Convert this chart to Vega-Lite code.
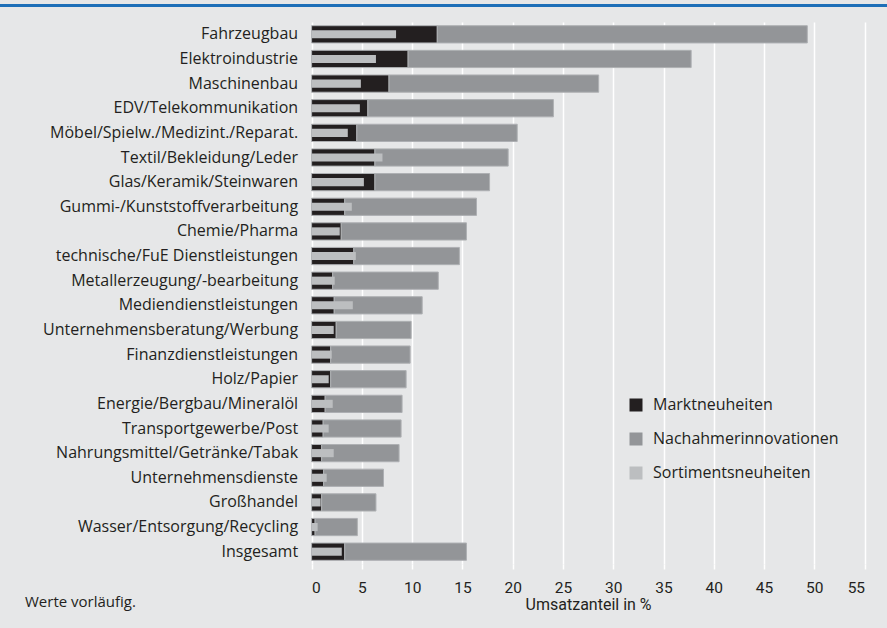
{
  "$schema": "https://vega.github.io/schema/vega-lite/v6.json",
  "background": "#e6e7e8",
  "padding": {"top": 4, "left": 0, "right": 0, "bottom": 0},
  "spacing": 15,
  "config": {"view": {"stroke": null}, "font": "Open Sans"},
  "datasets": {
    "d": [
      {"Branche": "Fahrzeugbau", "Art": "Marktneuheiten", "Wert": 12.5},
      {"Branche": "Fahrzeugbau", "Art": "Nachahmerinnovationen", "Wert": 36.8},
      {"Branche": "Fahrzeugbau", "Art": "Sortimentsneuheiten", "Wert": 8.4},
      {"Branche": "Elektroindustrie", "Art": "Marktneuheiten", "Wert": 9.6},
      {"Branche": "Elektroindustrie", "Art": "Nachahmerinnovationen", "Wert": 28.15},
      {"Branche": "Elektroindustrie", "Art": "Sortimentsneuheiten", "Wert": 6.4},
      {"Branche": "Maschinenbau", "Art": "Marktneuheiten", "Wert": 7.7},
      {"Branche": "Maschinenbau", "Art": "Nachahmerinnovationen", "Wert": 20.85},
      {"Branche": "Maschinenbau", "Art": "Sortimentsneuheiten", "Wert": 4.9},
      {"Branche": "EDV/Telekommunikation", "Art": "Marktneuheiten", "Wert": 5.6},
      {"Branche": "EDV/Telekommunikation", "Art": "Nachahmerinnovationen", "Wert": 18.45},
      {"Branche": "EDV/Telekommunikation", "Art": "Sortimentsneuheiten", "Wert": 4.8},
      {"Branche": "Möbel/Spielw./Medizint./Reparat.", "Art": "Marktneuheiten", "Wert": 4.5},
      {"Branche": "Möbel/Spielw./Medizint./Reparat.", "Art": "Nachahmerinnovationen", "Wert": 15.95},
      {"Branche": "Möbel/Spielw./Medizint./Reparat.", "Art": "Sortimentsneuheiten", "Wert": 3.6},
      {"Branche": "Textil/Bekleidung/Leder", "Art": "Marktneuheiten", "Wert": 6.3},
      {"Branche": "Textil/Bekleidung/Leder", "Art": "Nachahmerinnovationen", "Wert": 13.25},
      {"Branche": "Textil/Bekleidung/Leder", "Art": "Sortimentsneuheiten", "Wert": 7.05},
      {"Branche": "Glas/Keramik/Steinwaren", "Art": "Marktneuheiten", "Wert": 6.3},
      {"Branche": "Glas/Keramik/Steinwaren", "Art": "Nachahmerinnovationen", "Wert": 11.4},
      {"Branche": "Glas/Keramik/Steinwaren", "Art": "Sortimentsneuheiten", "Wert": 5.2},
      {"Branche": "Gummi-/Kunststoffverarbeitung", "Art": "Marktneuheiten", "Wert": 3.3},
      {"Branche": "Gummi-/Kunststoffverarbeitung", "Art": "Nachahmerinnovationen", "Wert": 13.1},
      {"Branche": "Gummi-/Kunststoffverarbeitung", "Art": "Sortimentsneuheiten", "Wert": 4.0},
      {"Branche": "Chemie/Pharma", "Art": "Marktneuheiten", "Wert": 2.95},
      {"Branche": "Chemie/Pharma", "Art": "Nachahmerinnovationen", "Wert": 12.45},
      {"Branche": "Chemie/Pharma", "Art": "Sortimentsneuheiten", "Wert": 2.8},
      {"Branche": "technische/FuE Dienstleistungen", "Art": "Marktneuheiten", "Wert": 4.2},
      {"Branche": "technische/FuE Dienstleistungen", "Art": "Nachahmerinnovationen", "Wert": 10.5},
      {"Branche": "technische/FuE Dienstleistungen", "Art": "Sortimentsneuheiten", "Wert": 4.4},
      {"Branche": "Metallerzeugung/-bearbeitung", "Art": "Marktneuheiten", "Wert": 2.1},
      {"Branche": "Metallerzeugung/-bearbeitung", "Art": "Nachahmerinnovationen", "Wert": 10.5},
      {"Branche": "Metallerzeugung/-bearbeitung", "Art": "Sortimentsneuheiten", "Wert": 2.3},
      {"Branche": "Mediendienstleistungen", "Art": "Marktneuheiten", "Wert": 2.25},
      {"Branche": "Mediendienstleistungen", "Art": "Nachahmerinnovationen", "Wert": 8.75},
      {"Branche": "Mediendienstleistungen", "Art": "Sortimentsneuheiten", "Wert": 4.1},
      {"Branche": "Unternehmensberatung/Werbung", "Art": "Marktneuheiten", "Wert": 2.45},
      {"Branche": "Unternehmensberatung/Werbung", "Art": "Nachahmerinnovationen", "Wert": 7.45},
      {"Branche": "Unternehmensberatung/Werbung", "Art": "Sortimentsneuheiten", "Wert": 2.2},
      {"Branche": "Finanzdienstleistungen", "Art": "Marktneuheiten", "Wert": 1.9},
      {"Branche": "Finanzdienstleistungen", "Art": "Nachahmerinnovationen", "Wert": 7.9},
      {"Branche": "Finanzdienstleistungen", "Art": "Sortimentsneuheiten", "Wert": 2.0},
      {"Branche": "Holz/Papier", "Art": "Marktneuheiten", "Wert": 1.9},
      {"Branche": "Holz/Papier", "Art": "Nachahmerinnovationen", "Wert": 7.5},
      {"Branche": "Holz/Papier", "Art": "Sortimentsneuheiten", "Wert": 1.7},
      {"Branche": "Energie/Bergbau/Mineralöl", "Art": "Marktneuheiten", "Wert": 1.35},
      {"Branche": "Energie/Bergbau/Mineralöl", "Art": "Nachahmerinnovationen", "Wert": 7.65},
      {"Branche": "Energie/Bergbau/Mineralöl", "Art": "Sortimentsneuheiten", "Wert": 2.1},
      {"Branche": "Transportgewerbe/Post", "Art": "Marktneuheiten", "Wert": 1.15},
      {"Branche": "Transportgewerbe/Post", "Art": "Nachahmerinnovationen", "Wert": 7.75},
      {"Branche": "Transportgewerbe/Post", "Art": "Sortimentsneuheiten", "Wert": 1.7},
      {"Branche": "Nahrungsmittel/Getränke/Tabak", "Art": "Marktneuheiten", "Wert": 1.0},
      {"Branche": "Nahrungsmittel/Getränke/Tabak", "Art": "Nachahmerinnovationen", "Wert": 7.7},
      {"Branche": "Nahrungsmittel/Getränke/Tabak", "Art": "Sortimentsneuheiten", "Wert": 2.2},
      {"Branche": "Unternehmensdienste", "Art": "Marktneuheiten", "Wert": 1.2},
      {"Branche": "Unternehmensdienste", "Art": "Nachahmerinnovationen", "Wert": 5.95},
      {"Branche": "Unternehmensdienste", "Art": "Sortimentsneuheiten", "Wert": 1.5},
      {"Branche": "Großhandel", "Art": "Marktneuheiten", "Wert": 1.0},
      {"Branche": "Großhandel", "Art": "Nachahmerinnovationen", "Wert": 5.4},
      {"Branche": "Großhandel", "Art": "Sortimentsneuheiten", "Wert": 0.9},
      {"Branche": "Wasser/Entsorgung/Recycling", "Art": "Marktneuheiten", "Wert": 0.35},
      {"Branche": "Wasser/Entsorgung/Recycling", "Art": "Nachahmerinnovationen", "Wert": 4.2},
      {"Branche": "Wasser/Entsorgung/Recycling", "Art": "Sortimentsneuheiten", "Wert": 0.6},
      {"Branche": "Insgesamt", "Art": "Marktneuheiten", "Wert": 3.3},
      {"Branche": "Insgesamt", "Art": "Nachahmerinnovationen", "Wert": 12.1},
      {"Branche": "Insgesamt", "Art": "Sortimentsneuheiten", "Wert": 3.0}
    ]
  },
  "vconcat": [
    {
      "width": 887,
      "height": 3,
      "view": {"fill": "#1d6fb8", "stroke": null},
      "data": {"values": []},
      "mark": {"type": "point"},
      "encoding": {}
    },
    {
      "width": 887,
      "height": 542,
      "data": {"name": "d"},
      "title": {
        "text": "Werte vorläufig.",
        "orient": "bottom",
        "anchor": "start",
        "frame": "group",
        "dx": 25,
        "offset": -18,
        "fontSize": 15,
        "fontWeight": "normal",
        "color": "#231f20"
      },
      "encoding": {
        "y": {
          "field": "Branche",
          "type": "nominal",
          "sort": null,
          "scale": {"paddingInner": 0.3, "paddingOuter": 0.15},
          "axis": {
            "title": null,
            "orient": "left",
            "offset": -311.6,
            "labelFontSize": 16,
            "labelPadding": 14,
            "labelLimit": 0,
            "labelColor": "#231f20",
            "ticks": false,
            "domain": false,
            "grid": false
          }
        },
        "color": {
          "field": "Art",
          "type": "nominal",
          "scale": {
            "domain": ["Marktneuheiten", "Nachahmerinnovationen", "Sortimentsneuheiten"],
            "range": ["#231f20", "#939598", "#bcbec0"]
          },
          "legend": {
            "orient": "none",
            "legendX": 628,
            "legendY": 393,
            "title": null,
            "symbolType": "square",
            "symbolSize": 169,
            "symbolStrokeWidth": 0,
            "labelFontSize": 16,
            "labelLimit": 0,
            "labelColor": "#231f20",
            "labelOffset": 9,
            "rowPadding": 18
          }
        }
      },
      "layer": [
        {
          "transform": [{"filter": "datum.Art !== 'Sortimentsneuheiten'"}],
          "mark": {"type": "bar", "stroke": "#aeb0b3", "strokeWidth": 1},
          "encoding": {
            "x": {
              "field": "Wert",
              "type": "quantitative",
              "stack": "zero",
              "scale": {"domain": [0, 55], "nice": false, "range": [311.6, 864.6]},
              "axis": {
                "values": [0, 5, 10, 15, 20, 25, 30, 35, 40, 45, 50, 55],
                "grid": true,
                "gridColor": "#ffffff",
                "gridWidth": 1.5,
                "domain": false,
                "tickColor": "#ffffff",
                "tickSize": 5,
                "tickWidth": 1.5,
                "labelFont": "Roboto",
                "labelFontSize": 15.5,
                "labelPadding": 11,
                "labelColor": "#231f20",
                "title": "Umsatzanteil in %",
                "titleFont": "Roboto",
                "titleFontSize": 16,
                "titleFontWeight": "normal",
                "titleColor": "#231f20",
                "titlePadding": 1
              }
            }
          }
        },
        {
          "transform": [{"filter": "datum.Art === 'Sortimentsneuheiten'"}],
          "mark": {"type": "bar", "height": {"band": 0.47}},
          "encoding": {
            "x": {"field": "Wert", "type": "quantitative", "stack": null}
          }
        }
      ]
    },
    {
      "width": 887,
      "height": 2,
      "view": {"fill": "#1d6fb8", "stroke": null},
      "data": {"values": []},
      "mark": {"type": "point"},
      "encoding": {}
    }
  ]
}
